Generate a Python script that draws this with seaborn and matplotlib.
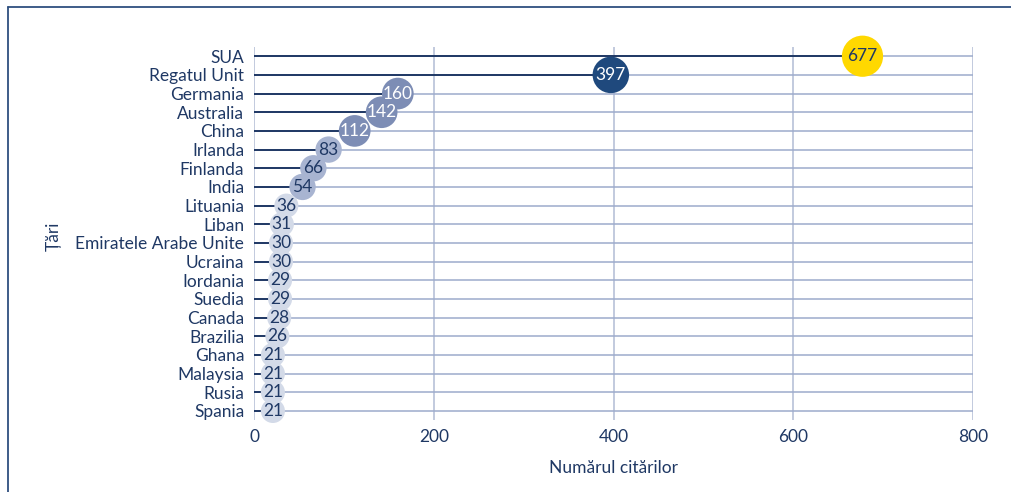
import matplotlib
matplotlib.use("Agg")
import matplotlib.pyplot as plt
from matplotlib.lines import Line2D
import seaborn as sns
import pandas as pd

countries = ["SUA", "Regatul Unit", "Germania", "Australia", "China", "Irlanda",
             "Finlanda", "India", "Lituania", "Liban", "Emiratele Arabe Unite",
             "Ucraina", "Iordania", "Suedia", "Canada", "Brazilia", "Ghana",
             "Malaysia", "Rusia", "Spania"]
citations = [677, 397, 160, 142, 112, 83, 66, 54, 36, 31, 30, 30, 29, 29, 28, 26,
             21, 21, 21, 21]
x_ticks = [0, 200, 400, 600, 800]
x_label = "Numărul citărilor"
y_label = "Țări"

NAVY = "#1f3864"

def tier(v):
    if v >= 600:
        return "t1"
    if v >= 300:
        return "t2"
    if v >= 100:
        return "t3"
    if v >= 50:
        return "t4"
    return "t5"

palette = {"t1": "#ffd800", "t2": "#1f497d", "t3": "#7d8db5", "t4": "#a8b4d1", "t5": "#d3dae8"}
sizes = {"t1": 880, "t2": 690, "t3": 520, "t4": 360, "t5": 300}
txtcol = {"t1": NAVY, "t2": "white", "t3": "white", "t4": NAVY, "t5": NAVY}

df = pd.DataFrame({"country": countries, "value": citations})
df["pos"] = range(len(df))
df["tier"] = df["value"].apply(tier)

sns.set_style("white")
plt.rcParams["font.family"] = ["Lato", "DejaVu Sans"]

FS = 12.5

fig = plt.figure(figsize=(10.12, 4.92), dpi=100)
ax = fig.add_axes([0.251, 0.1457, 0.7105, 0.759])

# row grid lines across full width
ax.hlines(df["pos"], 0, 800, color="#9dabcc", lw=1.1, zorder=1)
# vertical grid
for t in x_ticks:
    ax.axvline(t, color="#b7c1d8", lw=1.2, zorder=0.5)
# stems
ax.hlines(df["pos"], 0, df["value"], color=NAVY, lw=1.4, zorder=2)

sns.scatterplot(data=df, x="value", y="pos", hue="tier", palette=palette,
                size="tier", sizes=sizes, legend=False, linewidth=0,
                ax=ax, zorder=3, clip_on=False)

for _, r in df.iterrows():
    ax.text(r["value"], r["pos"], str(r["value"]), ha="center", va="center",
            fontsize=FS, color=txtcol[r["tier"]], zorder=4)

ax.set_xlim(0, 800)
ax.set_ylim(len(df) - 0.5, -0.5)
ax.set_xticks(x_ticks)
ax.set_yticks(df["pos"])
ax.set_yticklabels(countries)
ax.tick_params(axis="both", length=0, labelsize=FS, labelcolor=NAVY)
ax.tick_params(axis="y", pad=7)
ax.tick_params(axis="x", pad=6)
for s in ax.spines.values():
    s.set_visible(False)
ax.set_xlabel(x_label, fontsize=FS, color=NAVY, labelpad=11)
ax.set_ylabel("")
fig.text(0.053, 0.52, y_label, rotation=90, ha="center", va="center",
         fontsize=FS, color=NAVY)

# outer frame (left and top)
fig.add_artist(Line2D([8/1012, 8/1012], [0, 1 - 7/492], transform=fig.transFigure,
                      color="#2f4f7f", lw=1.3))
fig.add_artist(Line2D([8/1012, 1], [1 - 7/492, 1 - 7/492], transform=fig.transFigure,
                      color="#2f4f7f", lw=1.3))

fig.savefig("out.png", dpi=100)
